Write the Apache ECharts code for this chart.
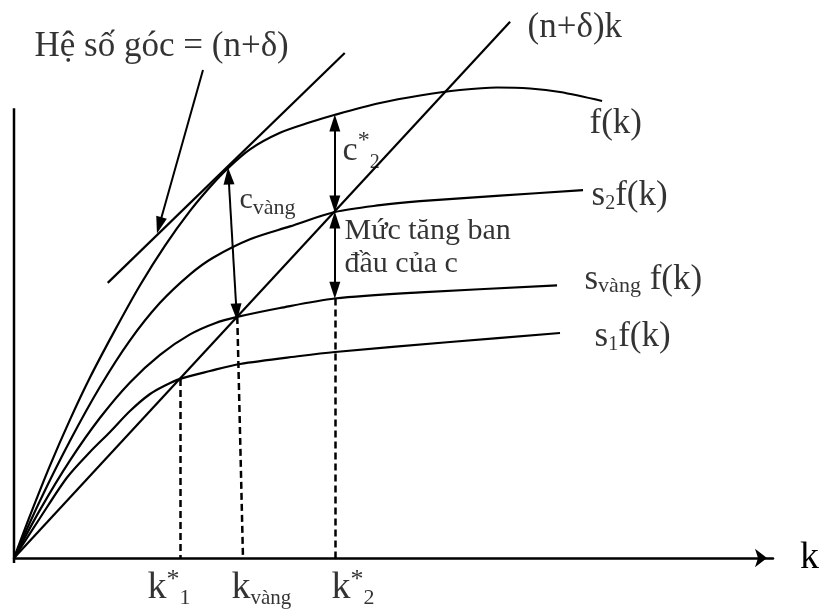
<!DOCTYPE html>
<html>
<head>
<meta charset="utf-8">
<script src="https://cdn.jsdelivr.net/npm/echarts@6/dist/echarts.min.js"></script>
<style>
html,body{margin:0;padding:0;background:#fff;}
#c{width:823px;height:611px;}
</style>
</head>
<body>
<div id="c"></div>
<script>
// ---- Data (diagram units: k horizontally, output vertically) ----
const fK      = [[0,0],[2.10,7.60],[4.72,16.56],[7.35,24.80],[9.97,32.35],[13.25,40.84],[16.54,48.89],[19.82,56.0],[23.10,62.2],[25.72,66.49],[28.08,69.86],[30.97,73.24],[34.91,76.2],[38.85,78.08],[42.13,79.43],[48.03,81.54],[53.28,82.89],[58.53,83.87],[63.39,84.32],[67.72,84.14],[71.65,83.51],[77.17,81.9]];
const s2fK    = [[0,0],[3.41,10.25],[7.35,21.0],[11.29,30.68],[15.22,39.01],[19.16,45.73],[23.10,50.84],[26.12,53.82],[30.97,57.13],[36.22,59.43],[42.1,62.0],[48.03,63.23],[53.28,63.94],[63.78,64.95],[74.67,65.91]];
const sGoldfK = [[0,0],[3.41,8.62],[7.35,17.49],[11.29,25.13],[15.22,31.47],[19.16,36.42],[23.10,40.07],[26.38,42.08],[29.3,43.2],[34.91,44.8],[42.1,46.5],[53.28,47.6],[71.26,48.84]];
const s1fK    = [[0,0],[3.41,7.17],[6.96,14.43],[9.97,19.0],[12.6,22.58],[15.22,26.34],[17.85,29.39],[19.82,30.91],[21.8,32.1],[25.72,33.51],[29.66,34.77],[37.53,36.2],[42.13,36.92],[57.22,38.71],[71.65,40.32]];
const depreciationLine = [[0,0],[65.1,96.1]];          // (n+δ)k
const tangentLine      = [[12.3,49.3],[43.4,90.5]];    // slope = (n+δ)
const verticalAxis     = [[0,-0.9],[0,80.6]];
const dropLines   = [[[21.8,32.1],[21.8,0]], [[29.3,43.2],[30.05,0]], [[42.1,46.5],[42.1,0]]];
const doubleArrows = [[[28.15,68.46],[29.2,44.09]], [[42.1,77.96],[42.1,63.44]], [[42.1,60.57],[42.1,48.0]]];
const pointerArrow = [[[24.8,87.46],[19.06,59.62]]];
const labelAnchors = [[2.76,91.49],[67.45,94.98],[75.59,77.69],[75.85,64.87],[43.44,55.47],[74.93,49.82],[76.25,39.61],[43.18,72.83],[29.66,64.07],[17.59,-5.47],[28.61,-5.47],[41.73,-5.47]];
const labelTexts = [
  '{big|Hệ số góc = (n+δ)}',
  '{t|(n+δ)k}',
  '{t|f(k)}',
  '{t|s}{sub|2}{t|f(k)}',
  '{note|Mức tăng ban}\n{note|đầu của c}',
  '{t|s}{tv|vàng}{t| f(k)}',
  '{t|s}{sub|1}{t|f(k)}',
  '{c|c}{star|*}{csub|2}',
  '{cg|c}{cgs|vàng}',
  '{k|k}{kstar|*}{ksub|1}',
  '{k|k}{kv|vàng}',
  '{k|k}{kstar|*}{ksub|2}'
];
const axisName = 'k';

// ---- Chart ----
const FONT = '"Liberation Serif","Times New Roman",serif';
const ink = '#000';
const rich = {
  big:  {fontFamily:FONT, fontSize:35, color:ink},
  t:    {fontFamily:FONT, fontSize:35, lineHeight:36, color:ink},
  sub:  {fontFamily:FONT, fontSize:20, lineHeight:20, verticalAlign:'bottom', color:ink},
  tv:   {fontFamily:FONT, fontSize:22, lineHeight:22, verticalAlign:'bottom', color:ink},
  note: {fontFamily:FONT, fontSize:30, lineHeight:33, color:ink},
  c:    {fontFamily:FONT, fontSize:34, lineHeight:44, color:ink},
  star: {fontFamily:FONT, fontSize:24, lineHeight:24, verticalAlign:'top', color:ink},
  csub: {fontFamily:FONT, fontSize:20, lineHeight:20, verticalAlign:'bottom', color:ink},
  cg:   {fontFamily:FONT, fontSize:30, lineHeight:38, color:ink},
  cgs:  {fontFamily:FONT, fontSize:22, lineHeight:22, verticalAlign:'bottom', color:ink},
  k:    {fontFamily:FONT, fontSize:38, lineHeight:42, color:ink},
  kstar:{fontFamily:FONT, fontSize:26, lineHeight:26, verticalAlign:'top', color:ink},
  ksub: {fontFamily:FONT, fontSize:22, lineHeight:22, verticalAlign:'bottom', color:ink},
  kv:   {fontFamily:FONT, fontSize:21, lineHeight:21, verticalAlign:'bottom', color:ink}
};

function curve(data, smooth){
  return {type:'line', data:data, smooth:smooth ? 0.3 : false,
          showSymbol:false, symbol:'none', silent:true, clip:false,
          lineStyle:{color:ink, width:2.2}};
}

const chart = echarts.init(document.getElementById('c'));
chart.setOption({
  animation:false,
  backgroundColor:'#fff',
  grid:{left:14, right:50, top:0, bottom:0, containLabel:false},
  xAxis:{type:'value', min:0, max:99.6,
    name:axisName, nameLocation:'end', nameGap:27,
    nameTextStyle:{fontFamily:FONT, fontSize:38, color:ink, verticalAlign:'middle'},
    axisLine:{show:true, onZero:true, symbol:['none','arrow'], symbolSize:[14,12], symbolOffset:[0,-6],
              lineStyle:{color:ink, width:2.5}},
    axisTick:{show:false}, axisLabel:{show:false}, splitLine:{show:false}},
  yAxis:{type:'value', min:-9.5, max:100,
    axisLine:{show:false}, axisTick:{show:false}, axisLabel:{show:false}, splitLine:{show:false}},
  series:[
    Object.assign(curve(verticalAxis,false), {lineStyle:{color:ink, width:2.5}}),
    curve(fK,true),
    curve(s2fK,true),
    curve(sGoldfK,true),
    curve(s1fK,true),
    curve(depreciationLine,false),
    curve(tangentLine,false),
    {type:'lines', coordinateSystem:'cartesian2d', silent:true,
     data:dropLines.map(c=>({coords:c})), symbol:['none','none'],
     lineStyle:{color:ink, width:2.5, type:[7,4], opacity:1}},
    {type:'lines', coordinateSystem:'cartesian2d', silent:true,
     data:doubleArrows.map(c=>({coords:c})), symbol:['triangle','triangle'], symbolSize:[[11,17],[11,17]],
     itemStyle:{color:ink},
     lineStyle:{color:ink, width:2, opacity:1}},
    {type:'lines', coordinateSystem:'cartesian2d', silent:true,
     data:pointerArrow.map(c=>({coords:c})), symbol:['none','triangle'], symbolSize:[[11,17],[11,17]],
     itemStyle:{color:ink},
     lineStyle:{color:ink, width:2, opacity:1}},
    {type:'scatter', silent:true, clip:false, symbolSize:1, itemStyle:{color:'rgba(0,0,0,0)'},
     data:labelAnchors.map((p,i)=>({value:p, label:{formatter:labelTexts[i]}})),
     label:{show:true, position:[0,0], align:'left', verticalAlign:'middle', color:ink, fontFamily:FONT, rich:rich}}
  ]
});
</script>
</body>
</html>
